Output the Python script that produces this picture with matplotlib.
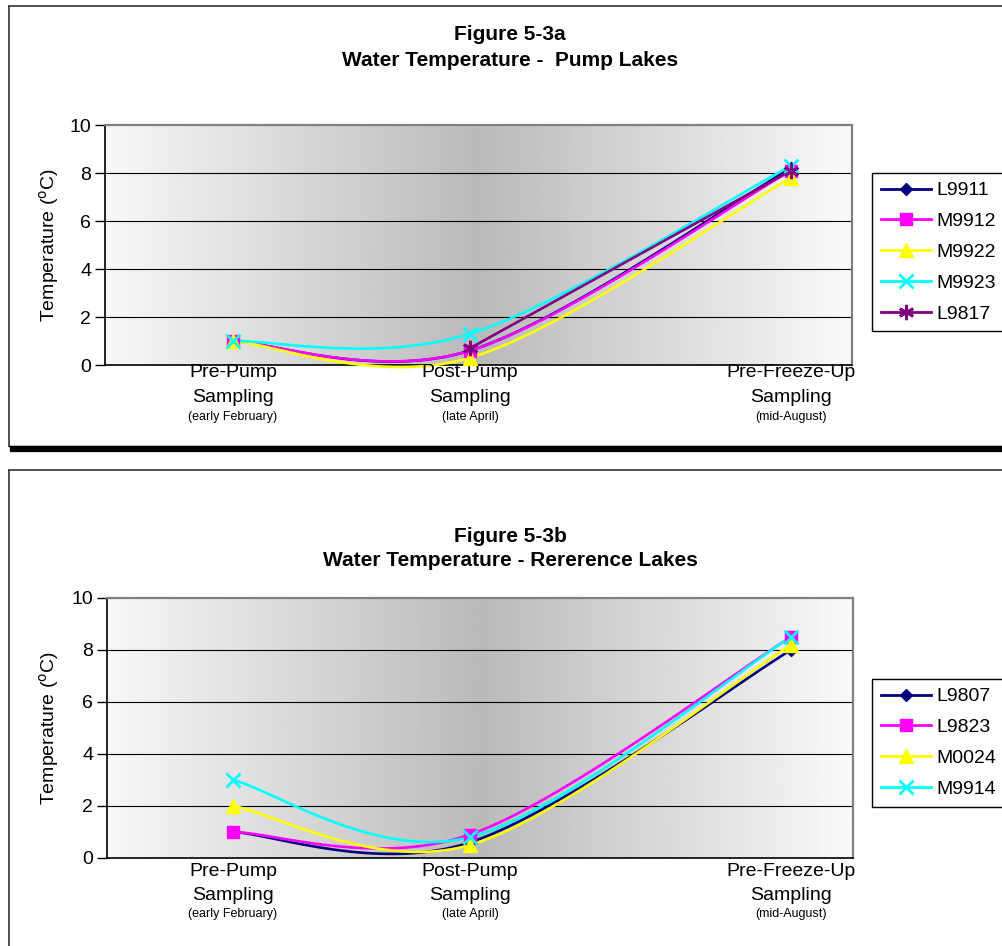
import numpy as np
import matplotlib.pyplot as plt
from matplotlib.lines import Line2D

plt.rcParams['font.family'] = ['Liberation Sans', 'DejaVu Sans']

W, H = 1002, 946

# sampling occasions (days after early-February sampling)
sample_days = [0, 79, 186]
cat_top = ['Pre-Pump', 'Post-Pump', 'Pre-Freeze-Up']
cat_mid = ['Sampling', 'Sampling', 'Sampling']
cat_sub = ['(early February)', '(late April)', '(mid-August)']

# Figure 5-3a  pump lakes
pump_names = ['L9911', 'M9912', 'M9922', 'M9923', 'L9817']
L9911 = [1.0, 0.6, 8.2]
M9912 = [1.0, 0.6, 8.1]
M9922 = [1.0, 0.3, 7.8]
M9923 = [1.0, 1.3, 8.3]
L9817 = [np.nan, 0.7, 8.1]

# Figure 5-3b  reference lakes
ref_names = ['L9807', 'L9823', 'M0024', 'M9914']
L9807 = [1.0, 0.6, 8.0]
L9823 = [1.0, 0.9, 8.5]
M0024 = [2.0, 0.5, 8.2]
M9914 = [3.0, 0.8, 8.5]

styles = [
    dict(color='#000080', marker='D', ms=6.5),
    dict(color='#FF00FF', marker='s', ms=8.5),
    dict(color='#FFFF00', marker='^', ms=9.5),
    dict(color='#00FFFF', marker='x', ms=9.5, mew=2),
    dict(color='#800080', marker=(6, 2, 0), ms=11, mew=2),
]


def px(x, y):
    return x / W, 1 - y / H


def smooth(xs, ys, n=60):
    # excel-like smoothed line: bezier through points, tangents from neighbours
    pts = [(x, y) for x, y in zip(xs, ys) if not np.isnan(y)]
    P = np.array(pts, dtype=float)
    if len(P) < 3:
        return P[:, 0], P[:, 1]
    out = []
    m = len(P)
    for i in range(m - 1):
        p0 = P[i]
        p1 = P[i + 1]
        pm = P[max(i - 1, 0)]
        pp = P[min(i + 2, m - 1)]
        c1 = p0 + (p1 - pm) / 6
        c2 = p1 - (pp - p0) / 6
        t = np.linspace(0, 1, n)[:, None]
        seg = (1 - t) ** 3 * p0 + 3 * (1 - t) ** 2 * t * c1 + 3 * (1 - t) * t ** 2 * c2 + t ** 3 * p1
        out.append(seg if i == 0 else seg[1:])
    out = np.vstack(out)
    return out[:, 0], out[:, 1]


def panel(fig, box, pts_px, names, series, titles, label_px, leg_top):
    l, r, t, b = box
    ax = fig.add_axes([l / W, 1 - b / H, (r - l) / W, (b - t) / H])
    unit = (pts_px[1] - pts_px[0]) / (sample_days[1] - sample_days[0])
    ax.set_xlim((l - pts_px[0]) / unit, (r - pts_px[0]) / unit)
    ax.set_ylim(0, 10)

    grad = np.concatenate([np.linspace(0.97, 0.73, 128), np.linspace(0.73, 0.98, 128)])
    ax.imshow(grad[None, :], cmap='gray', vmin=0, vmax=1, aspect='auto',
              extent=[0, 1, 0, 1], transform=ax.transAxes, zorder=0)

    for yv in [2, 4, 6, 8]:
        ax.axhline(yv, color='black', lw=0.8, zorder=1)

    for name, ys, st in zip(names, series, styles):
        sx, sy = smooth(sample_days, ys)
        ax.plot(sx, sy, color=st['color'], lw=1.9, zorder=3, clip_on=False)
        ax.plot(sample_days, ys, ls='none', marker=st['marker'], ms=st['ms'],
                color=st['color'], mec=st['color'], mew=st.get('mew', 1), zorder=4,
                clip_on=False)

    ax.set_xticks([])
    ax.set_yticks(range(0, 11, 2))
    ax.tick_params(axis='y', direction='out', length=7, width=1, labelsize=14, pad=3)
    for s in ['top', 'right']:
        ax.spines[s].set_color('#808080')
        ax.spines[s].set_linewidth(1.6)
    for s in ['left', 'bottom']:
        ax.spines[s].set_color('black')
        ax.spines[s].set_linewidth(1.2)
    ax.set_ylabel('Temperature ($^{\\rm o}$C)', fontsize=14)
    ax.yaxis.set_label_coords((61 - l) / (r - l), 0.5)

    tr = ax.get_xaxis_transform()
    for x, a, m, s in zip(sample_days, cat_top, cat_mid, cat_sub):
        for txt, ypx, fs in zip((a, m, s), label_px, (14, 14, 9)):
            ax.text(x, (b - ypx) / (b - t), txt, transform=tr, ha='center',
                    va='center', fontsize=fs)

    cx = 510 / W
    fig.text(cx, 1 - titles[2] / H, titles[0], ha='center', va='center',
             fontsize=15, fontweight='bold')
    fig.text(cx, 1 - titles[3] / H, titles[1], ha='center', va='center',
             fontsize=15, fontweight='bold')

    handles = [Line2D([], [], color=st['color'], lw=2, marker=st['marker'], ms=st['ms'],
                      mec=st['color'], mew=st.get('mew', 1)) for st in styles[:len(names)]]
    leg = ax.legend(handles, names, loc='upper left', bbox_to_anchor=px(872, leg_top),
                    bbox_transform=fig.transFigure, fontsize=14, frameon=True,
                    fancybox=False, edgecolor='black', framealpha=1, borderpad=0.45,
                    handlelength=2.6, handletextpad=0.25, labelspacing=0.68,
                    borderaxespad=0)
    leg.get_frame().set_linewidth(1.0)
    return ax


fig = plt.figure(figsize=(W / 100, H / 100), dpi=100)


# outer frames
def hline(y, x0, x1, lw, color='black'):
    fig.add_artist(Line2D([x0 / W, x1 / W], [1 - y / H, 1 - y / H], color=color, lw=lw))


def vline(x, y0, y1, lw, color='black'):
    fig.add_artist(Line2D([x / W, x / W], [1 - y0 / H, 1 - y1 / H], color=color, lw=lw))


hline(6, 9, W, 1.2, '#333333')
vline(9, 6, 446, 1.2, '#333333')
hline(446, 9, W, 1.0)
hline(449.5, 13, W, 4.5)
hline(470, 9, W, 1.2, '#333333')
vline(9, 470, H, 1.2, '#333333')

panel(fig, (105, 852, 125, 365), (233, 470, 790), pump_names,
      [L9911, M9912, M9922, M9923, L9817],
      ('Figure 5-3a', 'Water Temperature -  Pump Lakes', 35, 60),
      (372, 397, 417), 173)

panel(fig, (107, 853, 598, 858), (233, 470, 793), ref_names,
      [L9807, L9823, M0024, M9914],
      ('Figure 5-3b', 'Water Temperature - Rererence Lakes', 537, 560),
      (872, 895, 914), 679)

fig.savefig('out.png', dpi=100)
